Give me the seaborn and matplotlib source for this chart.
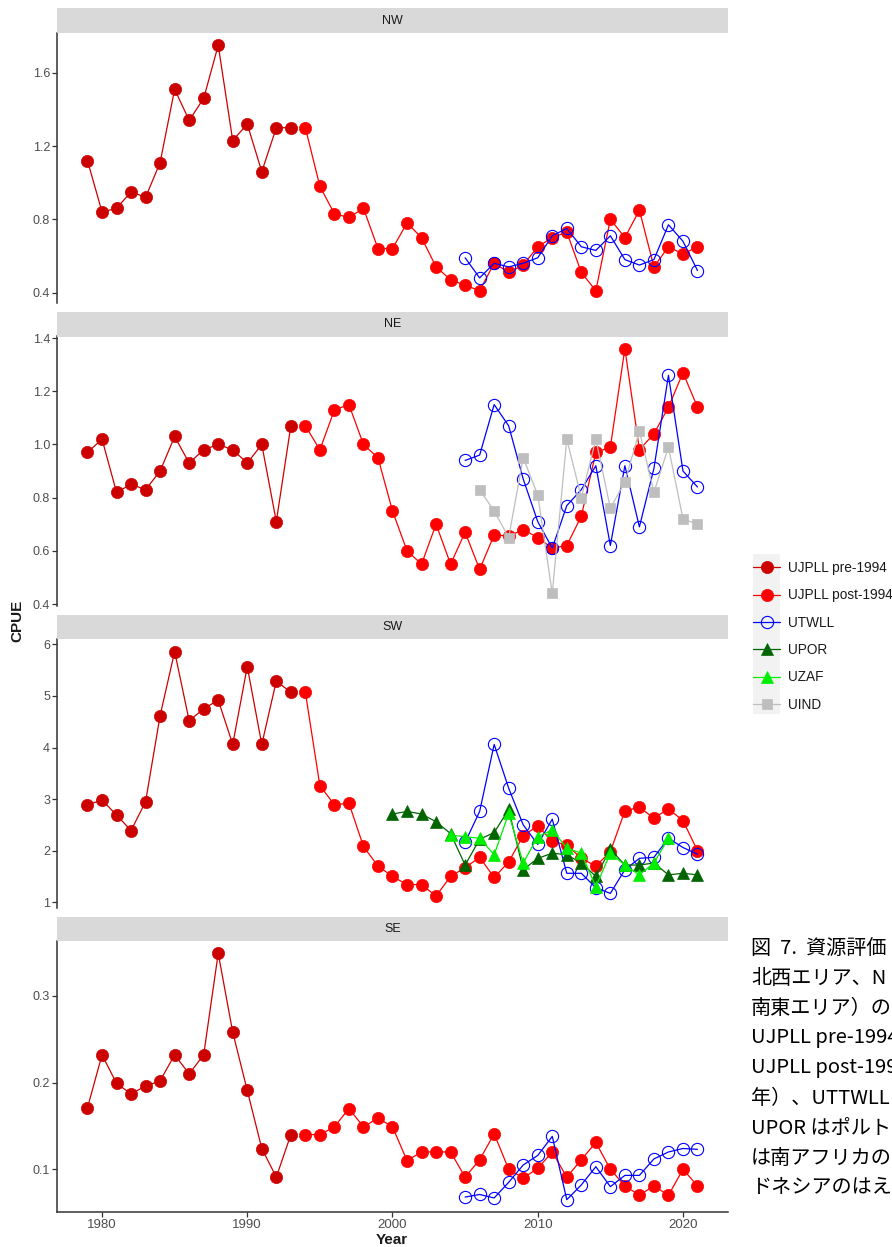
import numpy as np
import pandas as pd
import matplotlib
matplotlib.use("Agg")
import matplotlib.pyplot as plt
from matplotlib.lines import Line2D
from matplotlib.patches import Rectangle
import seaborn as sns

# ---- data ----
regions = ["NW", "NE", "SW", "SE"]

years_pre = list(range(1979, 1994))
years_post = list(range(1994, 2022))
years_twll = list(range(2005, 2022))
years_por = list(range(2000, 2022))
years_zaf = list(range(2004, 2020))
years_ind = list(range(2006, 2022))

nw_pre = [1.12, 0.84, 0.86, 0.95, 0.92, 1.11, 1.51, 1.34, 1.46, 1.75, 1.23, 1.32, 1.06, 1.30, 1.30]
nw_post = [1.30, 0.98, 0.83, 0.81, 0.86, 0.64, 0.64, 0.78, 0.70, 0.54, 0.47, 0.44, 0.41, 0.56,
           0.51, 0.55, 0.65, 0.70, 0.73, 0.51, 0.41, 0.80, 0.70, 0.85, 0.54, 0.65, 0.61, 0.65]
nw_twll = [0.59, 0.48, 0.56, 0.54, 0.56, 0.59, 0.71, 0.75, 0.65, 0.63, 0.71, 0.58, 0.55, 0.58,
           0.77, 0.68, 0.52]

ne_pre = [0.97, 1.02, 0.82, 0.85, 0.83, 0.90, 1.03, 0.93, 0.98, 1.00, 0.98, 0.93, 1.00, 0.71, 1.07]
ne_post = [1.07, 0.98, 1.13, 1.15, 1.00, 0.95, 0.75, 0.60, 0.55, 0.70, 0.55, 0.67, 0.53, 0.66,
           0.655, 0.68, 0.65, 0.61, 0.62, 0.73, 0.97, 0.99, 1.36, 0.98, 1.04, 1.14, 1.27, 1.14]
ne_twll = [0.94, 0.96, 1.15, 1.07, 0.87, 0.71, 0.61, 0.77, 0.83, 0.92, 0.62, 0.92, 0.69, 0.91,
           1.26, 0.90, 0.84]
ne_ind = [0.83, 0.75, 0.65, 0.95, 0.81, 0.44, 1.02, 0.80, 1.02, 0.76, 0.86, 1.05, 0.82, 0.99,
          0.72, 0.70]

sw_pre = [2.89, 2.98, 2.69, 2.39, 2.95, 4.62, 5.86, 4.52, 4.75, 4.92, 4.06, 5.57, 4.06, 5.29, 5.07]
sw_post = [5.07, 3.26, 2.89, 2.92, 2.08, 1.70, 1.50, 1.34, 1.34, 1.12, 1.50, 1.67, 1.87, 1.48,
           1.78, 2.29, 2.48, 2.18, 2.11, 1.85, 1.70, 1.98, 2.77, 2.84, 2.63, 2.81, 2.58, 2.00]
sw_twll = [2.16, 2.76, 4.06, 3.21, 2.50, 2.12, 2.61, 1.56, 1.56, 1.28, 1.17, 1.63, 1.85, 1.87,
           2.24, 2.06, 1.93]
sw_por = [2.71, 2.76, 2.71, 2.56, 2.33, 1.72, 2.22, 2.35, 2.80, 1.63, 1.85, 1.95, 1.92, 1.76,
          1.50, 2.03, 1.72, 1.72, 1.76, 1.53, 1.56, 1.53]
sw_zaf = [2.30, 2.27, 2.24, 1.92, 2.72, 1.76, 2.27, 2.40, 2.05, 1.95, 1.30, 1.95, 1.72, 1.53,
          1.76, 2.24]

se_pre = [0.171, 0.232, 0.199, 0.187, 0.196, 0.202, 0.232, 0.210, 0.232, 0.349, 0.258, 0.191,
          0.124, 0.091, 0.140]
se_post = [0.140, 0.140, 0.149, 0.170, 0.149, 0.159, 0.149, 0.110, 0.120, 0.120, 0.120, 0.091,
           0.111, 0.141, 0.100, 0.090, 0.101, 0.120, 0.091, 0.111, 0.131, 0.100, 0.081, 0.070,
           0.081, 0.070, 0.100, 0.081]
se_twll = [0.068, 0.071, 0.067, 0.085, 0.105, 0.116, 0.138, 0.065, 0.082, 0.103, 0.080, 0.093,
           0.093, 0.112, 0.120, 0.124, 0.123]

yticks = {
    "NW": [0.4, 0.8, 1.2, 1.6],
    "NE": [0.4, 0.6, 0.8, 1.0, 1.2, 1.4],
    "SW": [1, 2, 3, 4, 5, 6],
    "SE": [0.1, 0.2, 0.3],
}
xticks = [1980, 1990, 2000, 2010, 2020]

series_names = ["UJPLL pre-1994", "UJPLL post-1994", "UTWLL", "UPOR", "UZAF", "UIND"]

# caption as visible in the source (it runs off the right edge there)
caption_lines = [
    "図  7.  資源評価",
    "北西エリア、N",
    "南東エリア）の",
    "UJPLL pre-1994",
    "UJPLL post-199",
    "年）、UTTWLL",
    "UPOR はポルト",
    "は南アフリカの",
    "ドネシアのはえ",
]

# ---- long table ----
rows = []
def add(region, series, years, vals):
    for y, v in zip(years, vals):
        rows.append((region, series, y, v))

add("NW", "UJPLL pre-1994", years_pre, nw_pre)
add("NW", "UJPLL post-1994", years_post, nw_post)
add("NW", "UTWLL", years_twll, nw_twll)
add("NE", "UJPLL pre-1994", years_pre, ne_pre)
add("NE", "UJPLL post-1994", years_post, ne_post)
add("NE", "UTWLL", years_twll, ne_twll)
add("NE", "UIND", years_ind, ne_ind)
add("SW", "UJPLL pre-1994", years_pre, sw_pre)
add("SW", "UJPLL post-1994", years_post, sw_post)
add("SW", "UTWLL", years_twll, sw_twll)
add("SW", "UPOR", years_por, sw_por)
add("SW", "UZAF", years_zaf, sw_zaf)
add("SE", "UJPLL pre-1994", years_pre, se_pre)
add("SE", "UJPLL post-1994", years_post, se_post)
add("SE", "UTWLL", years_twll, se_twll)
df = pd.DataFrame(rows, columns=["region", "series", "Year", "CPUE"])

styles = {
    "UJPLL pre-1994": dict(color="#CD0000", marker="o", markersize=8.8, markerfacecolor="#CD0000",
                           markeredgecolor="#CD0000", markeredgewidth=0.5),
    "UJPLL post-1994": dict(color="#FF0000", marker="o", markersize=8.8, markerfacecolor="#FF0000",
                            markeredgecolor="#FF0000", markeredgewidth=0.5),
    "UTWLL": dict(color="#0000FF", marker="o", markersize=8.8, markerfacecolor="none",
                  markeredgecolor="#0000FF", markeredgewidth=0.8),
    "UPOR": dict(color="#006400", marker="^", markersize=9, markerfacecolor="#006400",
                 markeredgecolor="#006400", markeredgewidth=0.5),
    "UZAF": dict(color="#00EE00", marker="^", markersize=9, markerfacecolor="#00EE00",
                 markeredgecolor="#00EE00", markeredgewidth=0.5),
    "UIND": dict(color="#BEBEBE", marker="s", markersize=7.5, markerfacecolor="#BEBEBE",
                 markeredgecolor="#BEBEBE", markeredgewidth=0.5),
}

sns.set_theme(style="ticks")
plt.rcParams["font.family"] = ["Liberation Sans", "DejaVu Sans"]

W, H = 892, 1247
fig = plt.figure(figsize=(W / 100, H / 100), dpi=100)

def fx(px):
    return px / W

def fy(py):
    return 1 - py / H

left_px, right_px = 57, 728
# (strip top, axes top, axes bottom) in pixels
panel_px = [(8, 33, 303), (312, 336.5, 605.6), (615, 639.4, 908.2), (917, 941, 1212)]

axes = []
for i, reg in enumerate(regions):
    st, at, ab = panel_px[i]
    ax = fig.add_axes([fx(left_px), fy(ab), fx(right_px - left_px), (ab - at) / H])
    sub_r = df[df["region"] == reg]
    for z, s in enumerate(series_names):
        sub = sub_r[sub_r["series"] == s]
        if sub.empty:
            continue
        sns.lineplot(data=sub, x="Year", y="CPUE", ax=ax, linewidth=0.9,
                     zorder=3 + z, **styles[s])
    ax.set_xlim(1976.9, 2023.1)
    ax.margins(y=0.05)
    ax.set_yticks(yticks[reg])
    if reg == "SW":
        ax.set_yticklabels([str(t) for t in yticks[reg]])
    else:
        ax.set_yticklabels([f"{t:.1f}" for t in yticks[reg]])
    ax.set_xlabel("")
    ax.set_ylabel("")
    for sp in ["top", "right"]:
        ax.spines[sp].set_visible(False)
    ax.spines["left"].set_color("#333333")
    ax.spines["left"].set_linewidth(1.1)
    ax.tick_params(axis="y", length=3.5, width=0.9, color="#333333", labelsize=9,
                   labelcolor="#4D4D4D", pad=1.5)
    if i < 3:
        ax.spines["bottom"].set_visible(False)
        ax.tick_params(axis="x", bottom=False, labelbottom=False)
    else:
        ax.spines["bottom"].set_color("#333333")
        ax.spines["bottom"].set_linewidth(1.1)
        ax.set_xticks(xticks)
        ax.tick_params(axis="x", length=3.5, width=0.9, color="#333333", labelsize=9.5,
                       labelcolor="#4D4D4D", pad=1.5)
    axes.append(ax)

    # facet strip
    sax = fig.add_axes([fx(left_px), fy(at), fx(right_px - left_px), (at - st) / H])
    sax.set_facecolor("#D9D9D9")
    sax.set_xticks([])
    sax.set_yticks([])
    for sp in sax.spines.values():
        sp.set_visible(False)
    sax.text(0.5, 0.5, reg, ha="center", va="center", fontsize=9, color="#1A1A1A",
             transform=sax.transAxes)

# axis titles
fig.text(fx(17), fy(621), "CPUE", rotation=90, ha="center", va="center",
         fontsize=11, fontweight="bold", color="#1A1A1A")
fig.text(fx(392), fy(1244), "Year", ha="center", va="baseline",
         fontsize=11, fontweight="bold", color="#1A1A1A")

# legend with grey key background
fig.add_artist(Rectangle((fx(753), fy(714)), fx(27), 160 / H, transform=fig.transFigure,
                         facecolor="#F2F2F2", edgecolor="none", zorder=0))
handles = [Line2D([], [], linewidth=0.9, **styles[s]) for s in series_names]
fig.legend(handles, series_names, loc="upper left", bbox_to_anchor=(fx(753), fy(561)),
           frameon=False, fontsize=9.8, handlelength=2.0, handletextpad=0.6,
           labelspacing=0.98, borderpad=0, borderaxespad=0,
           labelcolor="#1A1A1A")

# caption (clipped by the figure edge as in the source)
for k, line in enumerate(caption_lines):
    fig.text(fx(751), fy(948 + 30 * k), line, ha="left", va="center", fontsize=14.5,
             color="black", family=["Noto Sans CJK JP", "DejaVu Sans"])

fig.savefig("out.png", dpi=100)
